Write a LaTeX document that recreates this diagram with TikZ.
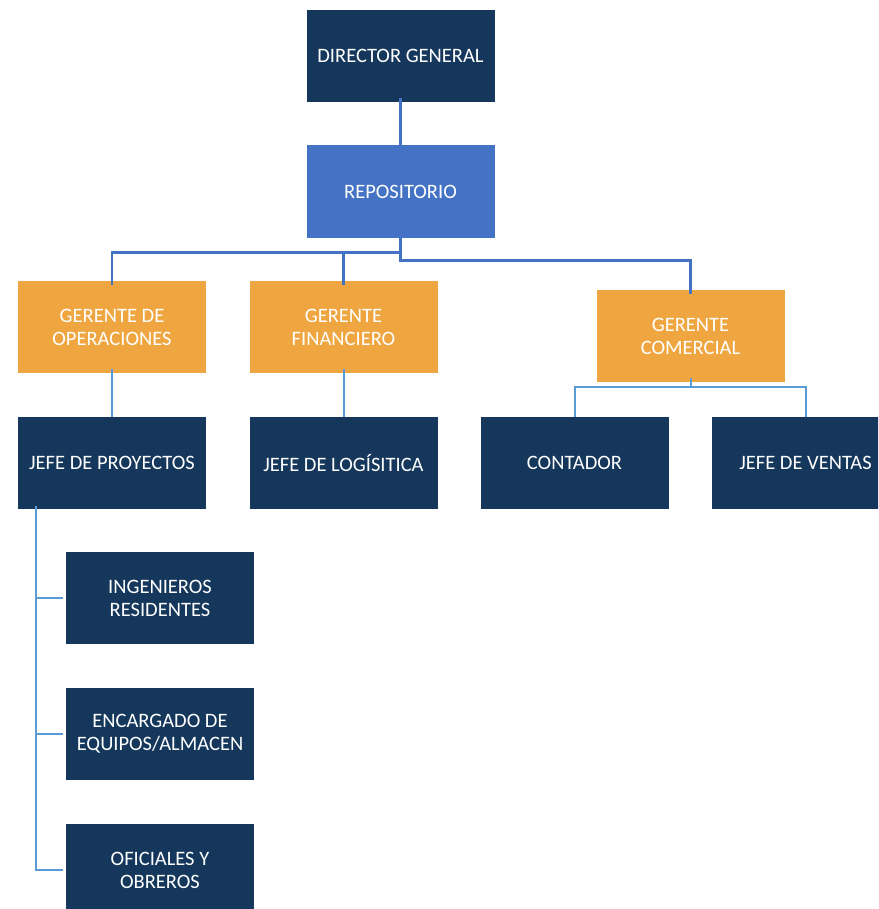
\documentclass[tikz,border=0pt]{standalone}
\usepackage{fontspec}
\setmainfont{Carlito}
\definecolor{navy}{HTML}{15375B}
\definecolor{repblue}{HTML}{4472C4}
\definecolor{orng}{HTML}{F0A640}
\definecolor{lblue}{HTML}{5B9BD5}
\begin{document}
\begin{tikzpicture}[x=1pt,y=-1pt,
  box/.style={minimum width=188pt,minimum height=92pt,inner sep=2pt,text=white,align=center,font=\fontsize{20.5}{23}\selectfont},
  navybox/.style={box,fill=navy},
  bluebox/.style={box,fill=repblue},
  orangebox/.style={box,fill=orng},
  topline/.style={draw=repblue,line width=2.5pt},
  lowline/.style={draw=lblue,line width=2pt}]
\clip (0,0) rectangle (878,909);
\fill[white] (0,0) rectangle (878,909);
\node[navybox] (DG) at (400.5,56) {DIRECTOR GENERAL};
\node[bluebox] (REP) at (400.5,191.5) {REPOSITORIO};
\node[orangebox] (OPS) at (112,327) {GERENTE DE\\OPERACIONES};
\node[orangebox] (FIN) at (343.5,327) {GERENTE\\FINANCIERO};
\node[orangebox] (COM) at (690.5,336) {GERENTE\\COMERCIAL};
\node[navybox] (JP) at (112,463) {JEFE DE PROYECTOS};
\node[navybox] (JL) at (343.5,463) {JEFE DE LOGÍSITICA};
\node[navybox] (CONT) at (574.5,463) {CONTADOR};
\node[navybox] (JV) at (805.5,463) {JEFE DE VENTAS};
\node[navybox] (ING) at (160,598) {INGENIEROS\\RESIDENTES};
\node[navybox] (ENC) at (160,734) {ENCARGADO DE\\EQUIPOS/ALMACEN};
\node[navybox] (OFI) at (160,870) {OFICIALES Y\\OBREROS};
\draw[topline] ([yshift=4]DG.south) -- (REP.north);
\draw[topline] ([yshift=4]REP.south) -- ++(0,19) -| ([yshift=-4]OPS.north);
\draw[topline] ([yshift=4]REP.south) ++(0,19) -| ([yshift=-4]FIN.north);
\draw[topline] ([yshift=4]REP.south) -- ++(0,27) -| ([yshift=-4]COM.north);
\draw[lowline] ([yshift=4]OPS.south) -- (JP.north);
\draw[lowline] ([yshift=4]FIN.south) -- (JL.north);
\draw[lowline] ([yshift=4]COM.south) -- ++(0,9) -| (CONT.north);
\draw[lowline] ([yshift=4]COM.south) ++(0,9) -| (JV.north);
\coordinate (jpt) at ([xshift=18,yshift=3]JP.south west);
\draw[lowline] (jpt) |- ([xshift=-3]ING.west);
\draw[lowline] (jpt) |- ([xshift=-3]ENC.west);
\draw[lowline] (jpt) |- ([xshift=-3]OFI.west);
\end{tikzpicture}
\end{document}
